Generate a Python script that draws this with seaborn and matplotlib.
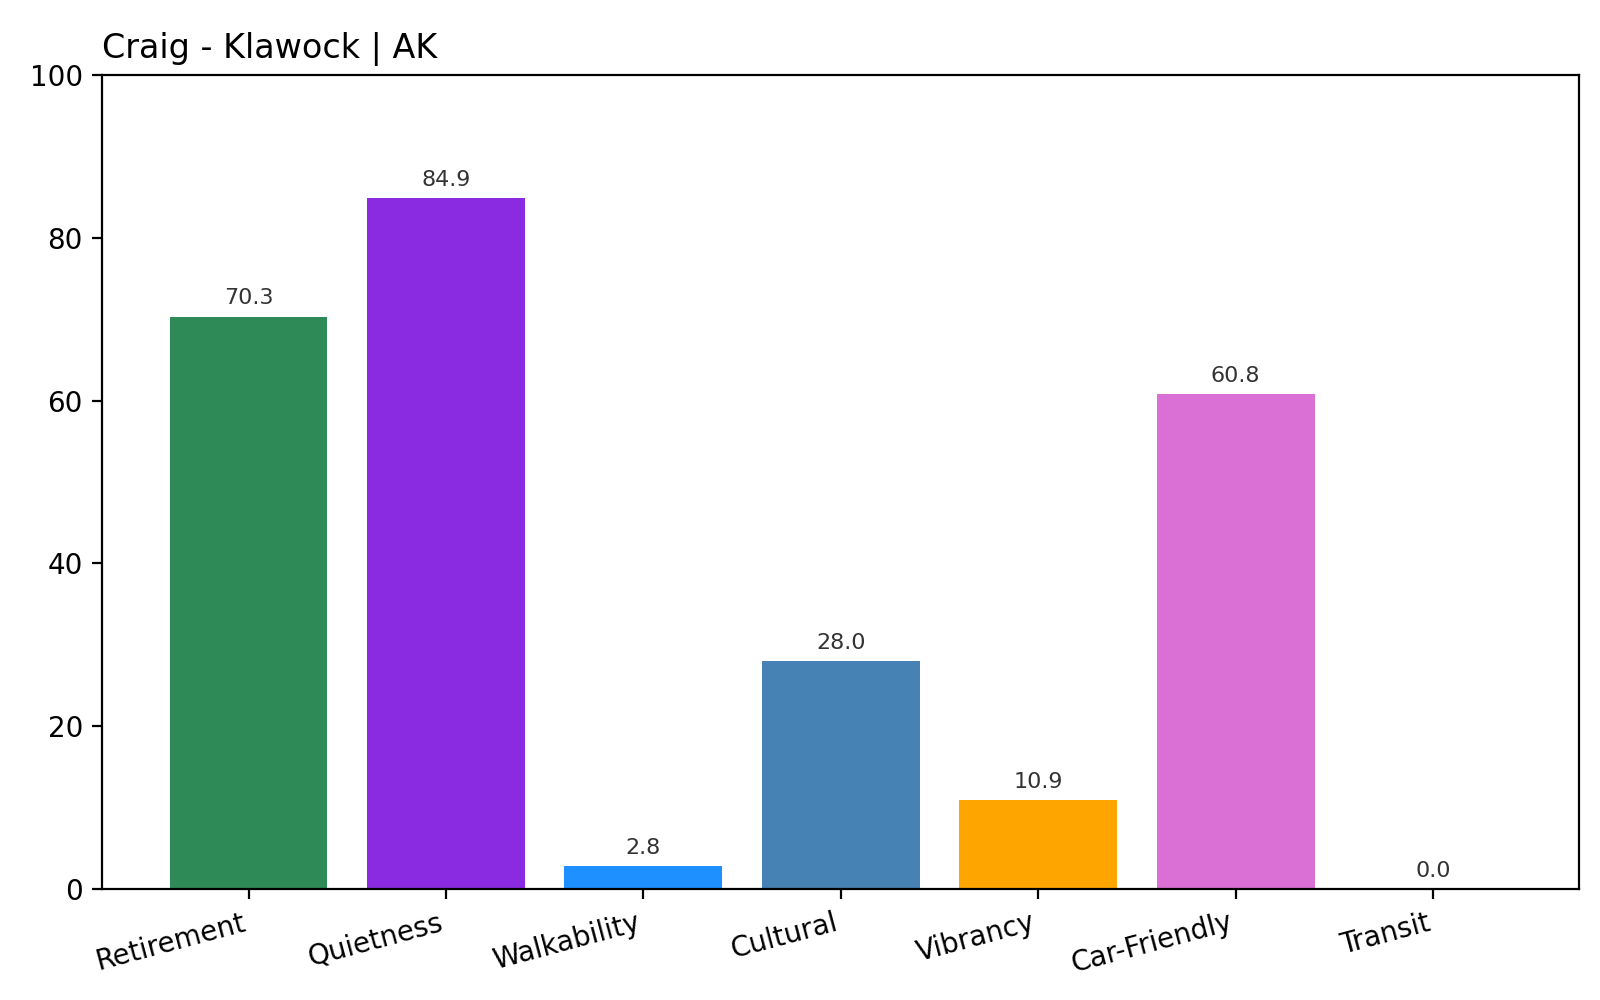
import matplotlib
matplotlib.use("Agg")
import matplotlib.pyplot as plt
import seaborn as sns
import pandas as pd

# --- Data ---
categories = ["Retirement", "Quietness", "Walkability", "Cultural",
              "Vibrancy", "Car-Friendly", "Transit"]
scores = [70.3, 84.9, 2.8, 28.0, 10.9, 60.8, 0.0]
bar_colors = ["#2E8B57", "#8A2BE2", "#1E90FF", "#4682B4",
              "#FFA500", "#DA70D6", "#808080"]
title_text = "Craig - Klawock | AK"

df = pd.DataFrame({"category": categories, "score": scores})

fig = plt.figure(figsize=(8, 5), dpi=200)
ax = fig.add_axes([0.064, 0.111, 0.923, 0.814])

sns.barplot(data=df, x="category", y="score", hue="category",
            palette=bar_colors, order=categories, hue_order=categories,
            width=0.8, saturation=1, legend=False, ax=ax)

for container in ax.containers:
    ax.bar_label(container, fmt="%.1f", padding=3, fontsize=8, color="#333333")

ax.set_xlim(-0.74, 6.74)
ax.set_ylim(0, 100)
ax.set_xlabel("")
ax.set_ylabel("")
ax.set_title(title_text, loc="left", fontsize=12)
plt.setp(ax.get_xticklabels(), rotation=15, ha="right", rotation_mode="default")

fig.savefig("out.png", dpi=200)
plt.close(fig)
